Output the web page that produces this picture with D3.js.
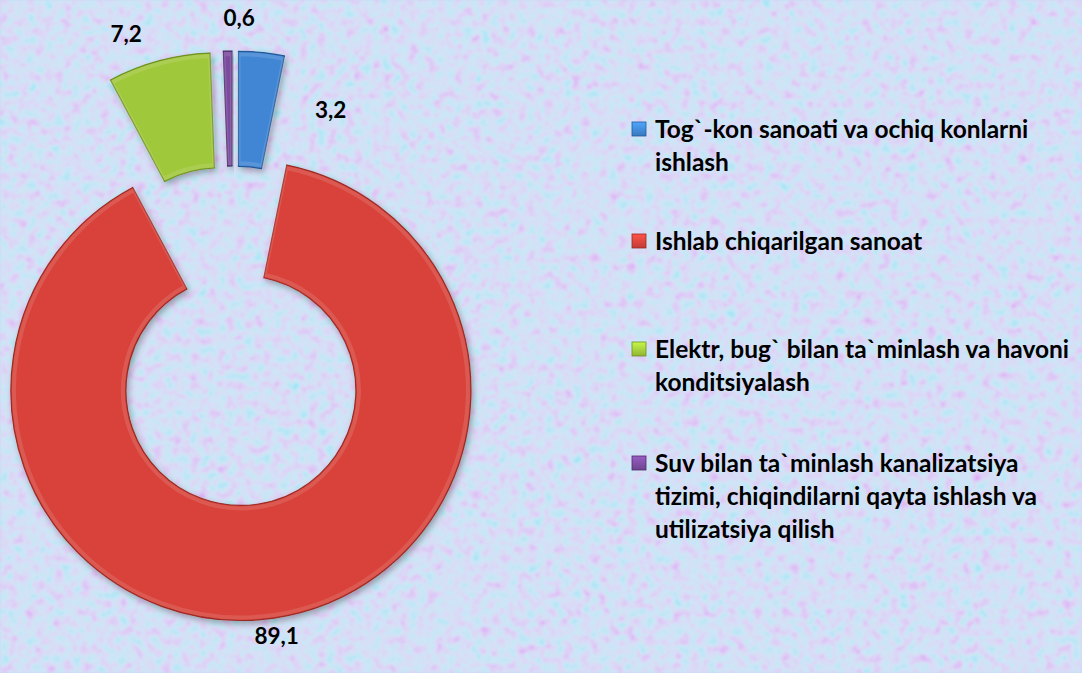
<!DOCTYPE html>
<head>
    <meta charset="utf-8">
    <script type="text/javascript" src="https://d3js.org/d3.v7.min.js"></script>
    <style>
        body { margin: 0; background: #c6d6f3; }
        .chart text {
            font-family: Lato, "Open Sans", sans-serif;
            font-weight: bold;
            fill: #000;
        }
    </style>
</head>

<svg class="chart" width="1082" height="673"></svg>

<script>

    // data
    var categories = [
        "Tog`-kon sanoati va ochiq konlarni ishlash",
        "Ishlab chiqarilgan sanoat",
        "Elektr, bug` bilan ta`minlash va havoni konditsiyalash",
        "Suv bilan ta`minlash kanalizatsiya tizimi, chiqindilarni qayta ishlash va utilizatsiya qilish"
    ];
    var values = [3.2, 89.1, 7.2, 0.6];
    var valueLabels = ["3,2", "89,1", "7,2", "0,6"];

    var colors = ["#3f86d4", "#d8433b", "#a0c83a", "#7b4c9e"],
        darker = ["#245a98", "#9a2a24", "#6f8f22", "#4e2c6a"];

    var width = 1082,
        height = 673,
        cx = 233,
        cy = 336,
        outerR = 230,
        innerR = 115,
        explode = 55;

    var svg = d3.select(".chart");
    var defs = svg.append("defs");

    // textured background (soft pink / cyan speckle)
    var bg = defs.append("filter").attr("id", "paper")
        .attr("x", 0).attr("y", 0).attr("width", 1).attr("height", 1);
    bg.append("feTurbulence")
        .attr("type", "fractalNoise")
        .attr("baseFrequency", 0.11)
        .attr("numOctaves", 3)
        .attr("seed", 7);
    bg.append("feColorMatrix")
        .attr("type", "matrix")
        .attr("values", "1.1 -1.1 0 0 0.82  -1.1 1.1 0 0 0.86  0 0 0 0 0.97  0 0 0 0 0.4");
    bg.append("feGaussianBlur").attr("stdDeviation", 0.8);
    svg.append("rect").attr("width", width).attr("height", height).attr("fill", "#c6d6f3");
    svg.append("rect").attr("width", width).attr("height", height).attr("filter", "url(#paper)");

    var shadow = defs.append("filter").attr("id", "shadow")
        .attr("x", -0.2).attr("y", -0.2).attr("width", 1.4).attr("height", 1.4);
    shadow.append("feDropShadow")
        .attr("dx", 2).attr("dy", 3).attr("stdDeviation", 3)
        .attr("flood-color", "#000").attr("flood-opacity", 0.3);

    colors.forEach(function(c, i) {
        var lg = defs.append("linearGradient").attr("id", "leg" + i)
            .attr("x1", 0).attr("y1", 0).attr("x2", 0).attr("y2", 1);
        lg.append("stop").attr("offset", "0%").attr("stop-color", d3.color(c).brighter(0.6));
        lg.append("stop").attr("offset", "100%").attr("stop-color", d3.color(c).darker(0.3));
    });

    var pie = d3.pie().sort(null).value(function(d) { return d; });
    var arcs = pie(values);

    var arc = d3.arc().innerRadius(innerR).outerRadius(outerR);

    function mid(d) { return (d.startAngle + d.endAngle) / 2; }
    function shift(d) {
        var a = mid(d);
        return "translate(" + (Math.sin(a) * explode) + "," + (-Math.cos(a) * explode) + ")";
    }

    var slices = svg.append("g")
        .attr("transform", "translate(" + cx + "," + cy + ")");

    slices.selectAll("path.slice")
        .data(arcs)
        .enter().append("path")
        .attr("class", "slice")
        .attr("d", arc)
        .attr("transform", shift)
        .attr("fill", function(d, i) { return colors[i]; })
        .attr("stroke", function(d, i) { return darker[i]; })
        .attr("stroke-width", 1.2)
        .attr("filter", "url(#shadow)");

    // soft bevel
    slices.selectAll("path.hl")
        .data(arcs)
        .enter().append("path")
        .attr("class", "hl")
        .attr("d", d3.arc().innerRadius(innerR + 3).outerRadius(outerR - 3))
        .attr("transform", shift)
        .attr("fill", "none")
        .attr("stroke", "#fff")
        .attr("stroke-opacity", 0.12)
        .attr("stroke-width", 4);

    // value labels outside the slices, nudged the way Excel placed them
    var labelPlace = [
        { angle: 23.4, r: 246 },
        { angle: null, r: 303 },
        { angle: -19.5, r: 320 },
        { angle: 1.1, r: 318 }
    ];

    function labelAngle(d, i) {
        var p = labelPlace[i];
        return p.angle !== null ? p.angle * Math.PI / 180 : mid(d);
    }

    slices.selectAll("text.val")
        .data(arcs)
        .enter().append("text")
        .attr("class", "val")
        .attr("x", function(d, i) { return Math.sin(labelAngle(d, i)) * labelPlace[i].r; })
        .attr("y", function(d, i) { return -Math.cos(labelAngle(d, i)) * labelPlace[i].r; })
        .attr("dy", "0.35em")
        .attr("text-anchor", "middle")
        .style("font-size", "22.5px")
        .text(function(d, i) { return valueLabels[i]; });

    // legend
    var legendX = 632,
        legendTop = [129, 241, 349, 463],
        lineH = 33,
        wrapW = 430;

    var legend = svg.append("g");

    categories.forEach(function(name, i) {
        var g = legend.append("g").attr("transform", "translate(" + legendX + "," + legendTop[i] + ")");
        g.append("rect")
            .attr("x", 0).attr("y", -7)
            .attr("width", 14).attr("height", 14)
            .attr("fill", "url(#leg" + i + ")")
            .attr("stroke", darker[i]).attr("stroke-width", 0.8);

        var t = g.append("text")
            .attr("x", 23)
            .attr("y", 0)
            .style("font-size", "24.5px");

        var words = name.split(" "), line = [], ln = 0;
        var tspan = t.append("tspan").attr("x", 23).attr("dy", "0.35em");
        words.forEach(function(w) {
            line.push(w);
            tspan.text(line.join(" "));
            if (tspan.node().getComputedTextLength() > wrapW && line.length > 1) {
                line.pop();
                tspan.text(line.join(" "));
                line = [w];
                ln++;
                tspan = t.append("tspan").attr("x", 23).attr("y", ln * lineH).attr("dy", "0.35em").text(w);
            }
        });
    });

</script>
